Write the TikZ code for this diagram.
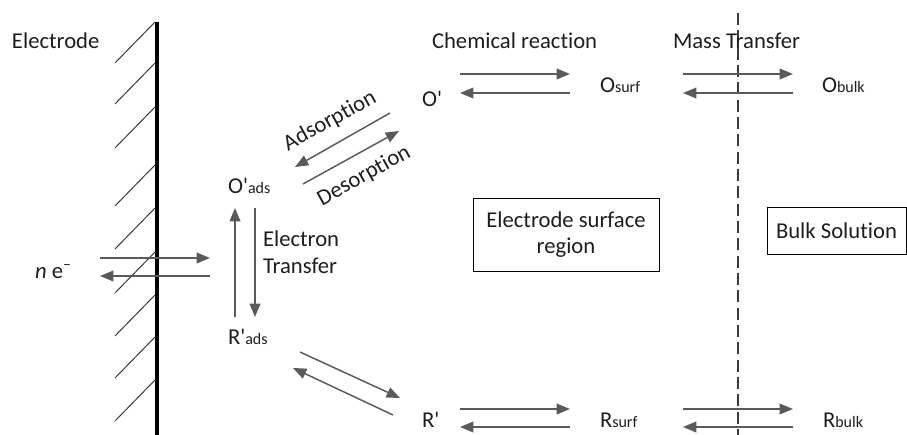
\documentclass[tikz,border=0pt]{standalone}
\usepackage{fontspec}
\setmainfont{Carlito}[Ligatures={TeX,NoCommon}]
\usetikzlibrary{arrows.meta}
\definecolor{arr}{HTML}{5A5A5A}
\definecolor{txt}{HTML}{1E1E1E}
\definecolor{hatchc}{HTML}{3A3A3A}
\newcommand\subtxt[1]{{\fontsize{12}{14}\selectfont #1}}
\newcommand\prm{\textquotesingle}
\begin{document}
\begin{tikzpicture}[x=0.75pt,y=-0.75pt,
  every node/.style={inner sep=0pt, outer sep=0pt, text=txt},
  lbl/.style={font=\fontsize{17}{20}\selectfont, anchor=base west},
  rlbl/.style={font=\fontsize{17}{20}\selectfont, anchor=center, rotate=29},
  flow/.style={draw=arr, line width=1.1pt, -{Triangle[length=10pt,width=8pt]}},
  hatch/.style={draw=hatchc, line width=0.75pt},
  box/.style={draw=black, line width=0.75pt, font=\fontsize{17}{20}\selectfont, align=center}
]
\useasboundingbox (0,0) rectangle (907,435);

% electrode
\foreach \yy in {22,63,107,165,208,252,295,337,380}{
  \draw[hatch] (155,\yy) -- ++(-40,41);
}
\coordinate (elT) at (157,22);
\coordinate (elB) at (157,435);
\draw[black, line width=3pt] (elT) -- (elB);

% dashed boundary
\coordinate (dT) at (738,13);
\coordinate (dB) at (738,435);
\draw[hatchc, line width=0.8pt, dash pattern=on 9pt off 4pt] (dT) -- (dB);

% labels
\node[lbl] (electrode) at (12,49) {Electrode};
\node[lbl] (ne) at (35,278) {\textit{n} e\textsuperscript{–}};
\node[lbl] (chem) at (432,49) {Chemical reaction};
\node[lbl] (mass) at (673,49) {Mass Transfer};
\node[lbl] (Oads) at (228,193) {O\prm\subtxt{ads}};
\node[lbl] (Rads) at (228,344) {R\prm\subtxt{ads}};
\node[lbl] (et1) at (263,246) {Electron};
\node[lbl] (et2) at (263,273) {Transfer};
\node[lbl] (Op) at (422,107) {O\prm};
\node[lbl] (Rp) at (422,427) {R\prm};
\node[lbl] (Osurf) at (600,93) {O\subtxt{surf}};
\node[lbl] (Obulk) at (822,93) {O\subtxt{bulk}};
\node[lbl] (Rsurf) at (600,427) {R\subtxt{surf}};
\node[lbl] (Rbulk) at (823,427) {R\subtxt{bulk}};
\node[rlbl] (ads) at (330,121) {Adsorption};
\node[rlbl] (des) at (364,176) {Desorption};

% boxes
\node[box, minimum width=139.5pt, minimum height=54.75pt] (esr) at (566,234.5) {Electrode surface\\region};
\node[box, minimum width=104.25pt, minimum height=35.25pt] (bulk) at (836.5,230.5) {Bulk Solution};

% electron arrows
\coordinate (e1a) at (100,258); \coordinate (e1b) at (210,258);
\coordinate (e2a) at (210,276); \coordinate (e2b) at (100,276);
\draw[flow] (e1a) -- (e1b);
\draw[flow] (e2a) -- (e2b);

% electron transfer
\coordinate (t1a) at (235,317); \coordinate (t1b) at (235,208);
\coordinate (t2a) at (255,208); \coordinate (t2b) at (255,317);
\draw[flow] (t1a) -- (t1b);
\draw[flow] (t2a) -- (t2b);

% adsorption / desorption
\coordinate (a1a) at (390,113); \coordinate (a1b) at (295,167);
\coordinate (a2a) at (303,184); \coordinate (a2b) at (399,131);
\draw[flow] (a1a) -- (a1b);
\draw[flow] (a2a) -- (a2b);

% lower diagonal
\coordinate (l1a) at (300,352); \coordinate (l1b) at (400,398);
\coordinate (l2a) at (393,415); \coordinate (l2b) at (293,368);
\draw[flow] (l1a) -- (l1b);
\draw[flow] (l2a) -- (l2b);

% top row
\coordinate (c1a) at (460,74); \coordinate (c1b) at (570,74);
\coordinate (c2a) at (570,93); \coordinate (c2b) at (460,93);
\coordinate (m1a) at (683,74); \coordinate (m1b) at (793,74);
\coordinate (m2a) at (793,93); \coordinate (m2b) at (683,93);
\draw[flow] (c1a) -- (c1b);
\draw[flow] (c2a) -- (c2b);
\draw[flow] (m1a) -- (m1b);
\draw[flow] (m2a) -- (m2b);

% bottom row
\coordinate (c3a) at (460,409); \coordinate (c3b) at (570,409);
\coordinate (c4a) at (570,427); \coordinate (c4b) at (460,427);
\coordinate (m3a) at (683,409); \coordinate (m3b) at (793,409);
\coordinate (m4a) at (793,427); \coordinate (m4b) at (683,427);
\draw[flow] (c3a) -- (c3b);
\draw[flow] (c4a) -- (c4b);
\draw[flow] (m3a) -- (m3b);
\draw[flow] (m4a) -- (m4b);
\end{tikzpicture}
\end{document}
